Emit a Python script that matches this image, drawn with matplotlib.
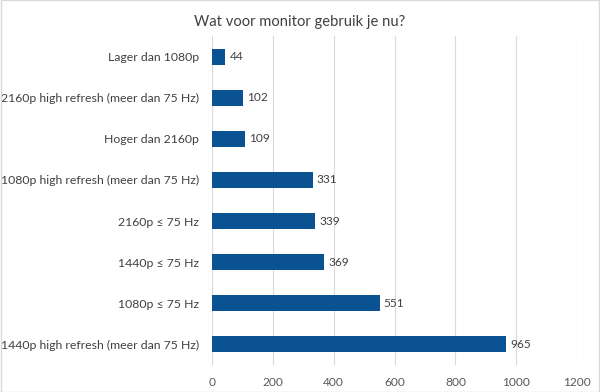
import matplotlib
matplotlib.use("Agg")
import matplotlib.pyplot as plt
from matplotlib.patches import Rectangle

categories = [
    "Lager dan 1080p",
    "2160p high refresh (meer dan 75 Hz)",
    "Hoger dan 2160p",
    "1080p high refresh (meer dan 75 Hz)",
    "2160p ≤ 75 Hz",
    "1440p ≤ 75 Hz",
    "1080p ≤ 75 Hz",
    "1440p high refresh (meer dan 75 Hz)",
]
values = [44, 102, 109, 331, 339, 369, 551, 965]
xticks = [0, 200, 400, 600, 800, 1000, 1200]
title = "Wat voor monitor gebruik je nu?"

plt.rcParams['font.family'] = ['Lato', 'DejaVu Sans']
fig = plt.figure(figsize=(6, 3.92), dpi=100)
ax = fig.add_axes([0.353, 0.069, 0.609, 0.839])

y = list(range(len(categories)))
ax.barh(y, values, height=0.39, color='#0a5291', zorder=3)
for yi, v in zip(y, values):
    ax.text(v + 14, yi, str(v), va='center', ha='left', fontsize=8.6, color='#404040')

ax.set_ylim(len(categories) - 0.5, -0.5)
ax.set_xlim(0, 1200)
ax.set_xticks(xticks)
ax.set_xticklabels([str(t) for t in xticks], fontsize=8.6, color='#595959')
ax.set_yticks(y)
ax.set_yticklabels(categories, fontsize=8.8, color='#404040')
ax.tick_params(axis='both', length=0)
ax.tick_params(axis='y', pad=9)
ax.tick_params(axis='x', pad=9)
ax.grid(axis='x', color='#d9d9d9', linewidth=0.8, zorder=0)
for s in ax.spines.values():
    s.set_visible(False)

fig.text(0.5, 0.945, title, ha='center', va='center', fontsize=10.6, color='#404040')
fig.patches.append(Rectangle((0.001, 0.001), 0.998, 0.998, transform=fig.transFigure,
                             fill=False, edgecolor='#d9d9d9', linewidth=1))
fig.savefig("out.png", dpi=100)
